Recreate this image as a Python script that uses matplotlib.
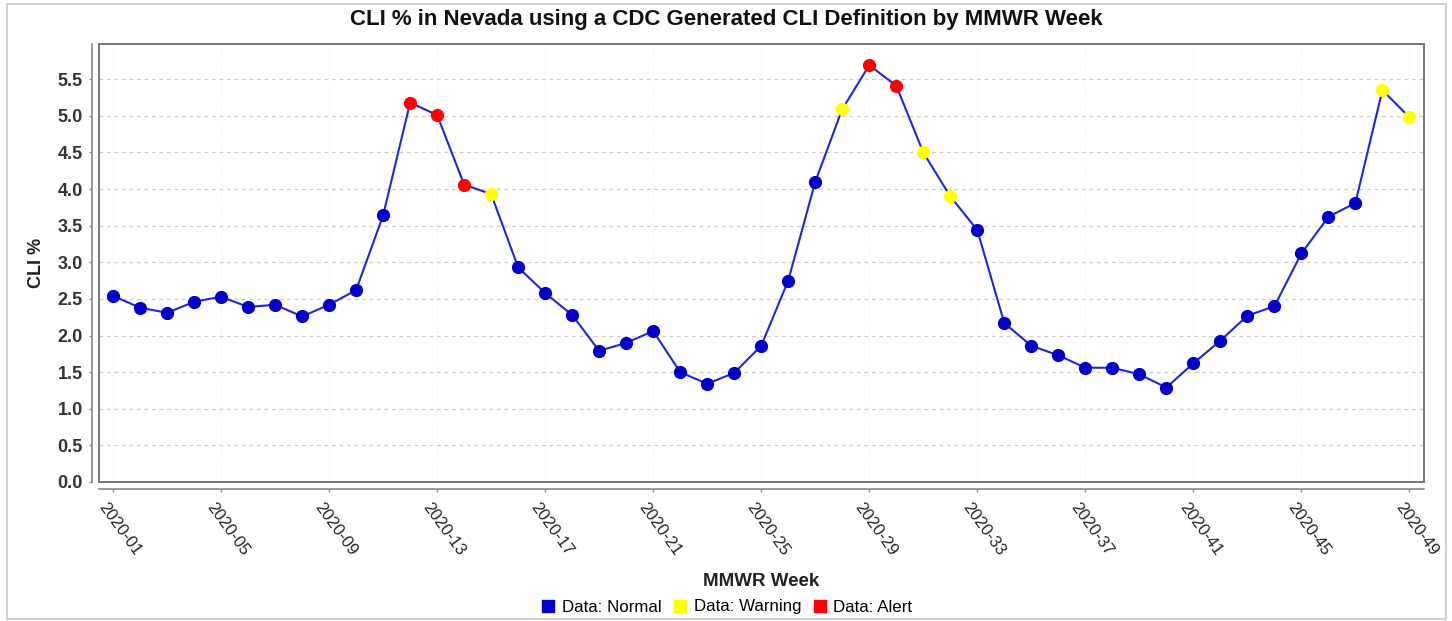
import matplotlib.pyplot as plt
import matplotlib.transforms as mtransforms
from matplotlib.lines import Line2D
from matplotlib.patches import Rectangle

plt.rcParams['font.family'] = ['Liberation Sans', 'DejaVu Sans']

weeks = list(range(1, 50))
cli = [2.54, 2.38, 2.31, 2.46, 2.53, 2.39, 2.42, 2.26, 2.42, 2.62,
       3.64, 5.18, 5.01, 4.06, 3.93, 2.93, 2.58, 2.28, 1.79, 1.90,
       2.06, 1.50, 1.34, 1.49, 1.86, 2.75, 4.10, 5.09, 5.69, 5.41,
       4.50, 3.90, 3.44, 2.17, 1.86, 1.73, 1.56, 1.56, 1.47, 1.29,
       1.62, 1.93, 2.27, 2.40, 3.12, 3.62, 3.81, 5.35, 4.98]
status = ['N'] * 11 + ['A', 'A', 'A', 'W'] + ['N'] * 12 + ['W', 'A', 'A', 'W', 'W'] + ['N'] * 15 + ['W', 'W']
tick_weeks = list(range(1, 50, 4))
tick_labels = [f"2020-{w:02d}" for w in tick_weeks]

colors = {'N': '#0000c8', 'W': '#ffff00', 'A': '#ff0000'}

fig = plt.figure(figsize=(14.52, 6.21), dpi=100)
ax = fig.add_axes([99 / 1452, 1 - 482 / 621, (1424 - 99) / 1452, (482 - 44) / 621])

ax.plot(weeks, cli, color='#2424d8', lw=1.5, zorder=3)
for w, v, s in zip(weeks, cli, status):
    ax.plot(w, v, 'o', color=colors[s], markersize=8.5, zorder=4)

ax.set_xlim(0.48, 49.54)
ax.set_ylim(0, 5.98)

ax.grid(axis='y', color='#cccccc', linestyle=(0, (3, 3)), lw=0.9)
ax.grid(axis='x', color='#eeeeee', linestyle=(0, (1, 2)), lw=0.8)

for side in ['top', 'right']:
    ax.spines[side].set_visible(False)
for side in ['left', 'bottom']:
    ax.spines[side].set_position(('outward', 5.2))
    ax.spines[side].set_color('#888888')
    ax.spines[side].set_linewidth(1.2)
ax.tick_params(axis='both', colors='#888888', length=2.5, width=1)
ax.tick_params(axis='y', pad=4)
ax.tick_params(axis='x', pad=5)

ax.set_yticks([i * 0.5 for i in range(12)])
ax.set_yticklabels([f"{i * 0.5:.1f}" for i in range(12)], fontsize=13, fontweight='bold', color='#333333')
ax.set_xticks(tick_weeks)
ax.set_xticklabels(tick_labels, rotation=-54, ha='left', va='top', rotation_mode='anchor',
                   fontsize=12, color='#222222')
shift = mtransforms.ScaledTranslation(-5 / 100, 0, fig.dpi_scale_trans)
for lbl in ax.get_xticklabels():
    lbl.set_transform(lbl.get_transform() + shift)

ax.add_patch(Rectangle((0, 0), 1, 1, transform=ax.transAxes, fill=False,
                       edgecolor='#777777', lw=1.4, clip_on=False, zorder=5))

ax.set_ylabel("CLI %", fontsize=13, fontweight='bold', color='#222222')
ax.yaxis.set_label_coords(-0.041, 0.5)
ax.set_xlabel("MMWR Week", fontsize=13.5, fontweight='bold', color='#222222')
ax.xaxis.set_label_coords(0.5, -0.207)
fig.text(0.5, 1 - 19.5 / 621, "CLI % in Nevada using a CDC Generated CLI Definition by MMWR Week",
         ha='center', va='center', fontsize=16, fontweight='bold', color='#111111')

handles = [Line2D([], [], marker='s', linestyle='', color=colors[k], markersize=9)
           for k in ['N', 'W', 'A']]
fig.legend(handles, ['Data: Normal', 'Data: Warning', 'Data: Alert'], loc='center',
           bbox_to_anchor=(0.5, 1 - 607 / 621), ncol=3, frameon=False, fontsize=12.2,
           handletextpad=0.3, columnspacing=0.6, handlelength=1.0)

fig.patches.append(Rectangle((7 / 1452, 2 / 621), 1439 / 1452, 615 / 621, transform=fig.transFigure,
                             fill=False, edgecolor='#c8c8c8', lw=1.2))

plt.savefig("out.png", dpi=100)
